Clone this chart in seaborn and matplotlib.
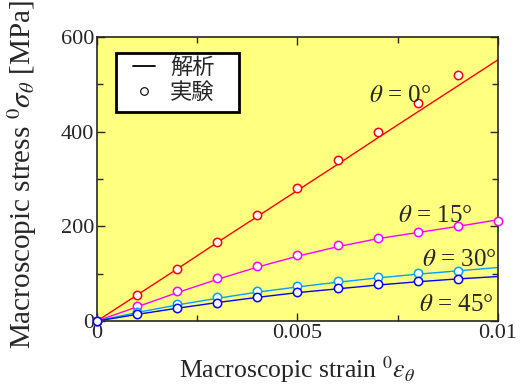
import numpy as np
import pandas as pd
import seaborn as sns
import matplotlib
matplotlib.use("Agg")
import matplotlib.pyplot as plt
from matplotlib.lines import Line2D
from matplotlib.patches import Rectangle

# strain values
strain = [0, 0.001, 0.002, 0.003, 0.004, 0.005, 0.006, 0.007, 0.008, 0.009, 0.010]
angles = ["0", "15", "30", "45"]

# analysis (lines), MPa
ana_0 = [0, 55, 110, 166, 221, 276, 331, 387, 442, 497, 552]
ana_15 = [0, 30, 60, 88, 114, 137, 157, 174, 187, 200, 214]
ana_30 = [0, 18, 34, 48, 61, 72, 82, 91, 99, 106, 113]
ana_45 = [0, 14, 27, 39, 50, 60, 68, 76, 83, 89, 94]

# experiment (markers), MPa
exp_x = [0, 0.001, 0.002, 0.003, 0.004, 0.005, 0.006, 0.007, 0.008, 0.009, 0.010]
exp_0 = [0, 55, 110, 167, 225, 282, 340, 400, 460, 520, None]
exp_15 = [0, 32, 63, 90, 117, 140, 160, 176, 189, 201, 211]
exp_30 = [0, 19, 35, 50, 63, 74, 84, 93, 101, 106, None]
exp_45 = [0, 14, 27, 39, 51, 61, 70, 78, 85, 89, None]

colors = {"0": "#ff0000", "15": "#ff00ff", "30": "#00a0ff", "45": "#0000ff"}

ana = pd.DataFrame({"strain": strain * 4,
                    "stress": ana_0 + ana_15 + ana_30 + ana_45,
                    "theta": sum([[a] * len(strain) for a in angles], [])})
exp = pd.DataFrame({"strain": exp_x * 4,
                    "stress": exp_0 + exp_15 + exp_30 + exp_45,
                    "theta": sum([[a] * len(exp_x) for a in angles], [])}).dropna()

sns.set_style("ticks")
plt.rcParams["font.family"] = ["Liberation Serif", "DejaVu Serif"]
plt.rcParams["mathtext.fontset"] = "stix"

fig = plt.figure(figsize=(5.23, 3.91), dpi=100)
ax = fig.add_axes([0.1855, 0.179, 0.7665, 0.726])
ax.set_facecolor("#ffff80")

sns.lineplot(data=ana, x="strain", y="stress", hue="theta", palette=colors,
             linewidth=1.0, legend=False, ax=ax)
for a in angles:
    d = exp[exp.theta == a]
    ax.scatter(d.strain, d.stress, s=36, facecolors="white",
               edgecolors=colors[a], linewidths=1.1, zorder=3, clip_on=False)

ax.set_xlim(0, 0.01)
ax.set_ylim(0, 600)
ax.set_xticks([0, 0.005, 0.01])
ax.set_xticklabels(["0", "0.005", "0.01"])
ax.set_xticks([0.0025, 0.0075], minor=True)
ax.set_yticks([0, 200, 400, 600])
ax.set_yticks([100, 300, 500], minor=True)
ax.tick_params(which="both", direction="in", top=True, right=True, labelsize=16,
               width=1.0, pad=2)
ax.tick_params(which="major", length=6)
ax.tick_params(which="minor", length=4)
for s in ax.spines.values():
    s.set_linewidth(1.2)
    s.set_visible(True)

ax.set_xlabel(r"Macroscopic strain $^0\varepsilon_\theta$", fontsize=18.5, labelpad=8)
ax.set_ylabel(r"Macroscopic stress $^0\sigma_\theta$ [MPa]", fontsize=21)
ax.yaxis.set_label_coords(-0.145, 0.515)

ax.text(0.00756, 475, r"$\theta$ = 0°", fontsize=18, ha="center", va="center")
ax.text(0.00843, 222, r"$\theta$ = 15°", fontsize=18, ha="center", va="center")
ax.text(0.00903, 129, r"$\theta$ = 30°", fontsize=18, ha="center", va="center")
ax.text(0.00897, 34, r"$\theta$ = 45°", fontsize=18, ha="center", va="center")

# legend frame drawn separately so padding matches the original box
ax.add_patch(Rectangle((0.047, 0.737), 0.307, 0.208, transform=ax.transAxes,
                       facecolor="white", edgecolor="black", linewidth=2, zorder=4))
handles = [Line2D([], [], color="black", lw=1.3),
           Line2D([], [], ls="none", marker="o", mfc="white", mec="black", ms=5.5, mew=0.8)]
leg = ax.legend(handles, ["解析", "実験"], loc="upper left", bbox_to_anchor=(0.09, 0.935),
                prop={"family": ["Noto Sans CJK JP", "DejaVu Sans"], "size": 16},
                frameon=False, handlelength=1.0, labelspacing=0.1, borderpad=0,
                handletextpad=0.65, borderaxespad=0)
leg.set_zorder(5)

fig.savefig("out.png", dpi=100)
